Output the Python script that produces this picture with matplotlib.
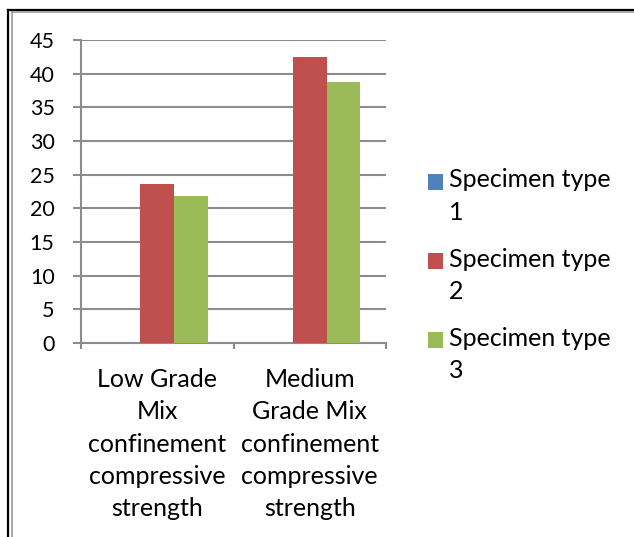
import matplotlib
matplotlib.use("Agg")
import matplotlib.pyplot as plt
from matplotlib.lines import Line2D
from matplotlib.patches import Rectangle
from matplotlib.container import BarContainer
from matplotlib.legend_handler import HandlerPatch, update_from_first_child
from matplotlib.ticker import FixedLocator, NullFormatter, FixedFormatter
import numpy as np

categories = ["Low Grade\nMix\nconfinement\ncompressive\nstrength",
              "Medium\nGrade Mix\nconfinement\ncompressive\nstrength"]
series_names = ["Specimen type\n1", "Specimen type\n2", "Specimen type\n3"]
type1 = [0, 0]
type2 = [23.6, 42.5]
type3 = [21.9, 38.7]
colors = ["#4F81BD", "#C0504D", "#9BBB59"]

plt.rcParams['font.family'] = ['Lato', 'DejaVu Sans']
W, H = 634, 537
fig = plt.figure(figsize=(W/100, H/100), dpi=100)
ax = fig.add_axes([81/W, 1-343/H, (386-81)/W, (343-40)/H])

x = np.arange(len(categories))
bw = 0.22
for i, (vals, name, c) in enumerate(zip([type1, type2, type3], series_names, colors)):
    ax.bar(x + (i-1)*bw, vals, width=bw, color=c, label=name, zorder=3, linewidth=0)

ax.set_xlim(-0.5, 1.5)
ax.set_ylim(0, 45)
ax.set_yticks(np.arange(0, 46, 5))
ax.yaxis.grid(True, color="#8c8c8c", linewidth=1.5, zorder=0)
ax.tick_params(axis='y', length=6, width=1.5, color="#8c8c8c", labelsize=15.5, pad=13)

ax.xaxis.set_major_locator(FixedLocator([-0.5, 0.5, 1.5]))
ax.xaxis.set_major_formatter(NullFormatter())
ax.xaxis.set_minor_locator(FixedLocator(x))
ax.xaxis.set_minor_formatter(FixedFormatter(categories))
ax.tick_params(axis='x', which='major', length=4, width=1.5, color="#8c8c8c", direction='out')
ax.tick_params(axis='x', which='minor', length=0, labelsize=18, pad=18)
for t in ax.xaxis.get_minorticklabels():
    t.set_linespacing(1.49)

for s in ['top', 'right']:
    ax.spines[s].set_visible(False)
for s in ['left', 'bottom']:
    ax.spines[s].set_color("#8c8c8c")
    ax.spines[s].set_linewidth(1.5)

SQUARE_SHIFT_PT = 11.0
def make_square(legend, orig_handle, xdescent, ydescent, width, height, fontsize):
    return Rectangle((-xdescent, -ydescent + SQUARE_SHIFT_PT), width, height)

handler = HandlerPatch(patch_func=make_square, update_func=update_from_first_child)
leg = fig.legend(loc='upper left', bbox_to_anchor=(405/W, 1-146/H), frameon=False,
                 fontsize=18, handlelength=0.6, handleheight=0.6, handletextpad=0.25,
                 labelspacing=0.95,
                 handler_map={BarContainer: handler})
for t in leg.get_texts():
    t.set_linespacing(1.49)

# figure border (top and left double lines)
fig.add_artist(Line2D([8/W, 1], [1-9.5/H, 1-9.5/H], transform=fig.transFigure, color='black', linewidth=1.6))
fig.add_artist(Line2D([12/W, 1], [1-12/H, 1-12/H], transform=fig.transFigure, color='#999999', linewidth=1.2))
fig.add_artist(Line2D([8/W, 8/W], [0, 1-9.5/H], transform=fig.transFigure, color='black', linewidth=1.6))
fig.add_artist(Line2D([12/W, 12/W], [0, 1-12/H], transform=fig.transFigure, color='#999999', linewidth=1.2))

fig.savefig("out.png", dpi=100)
